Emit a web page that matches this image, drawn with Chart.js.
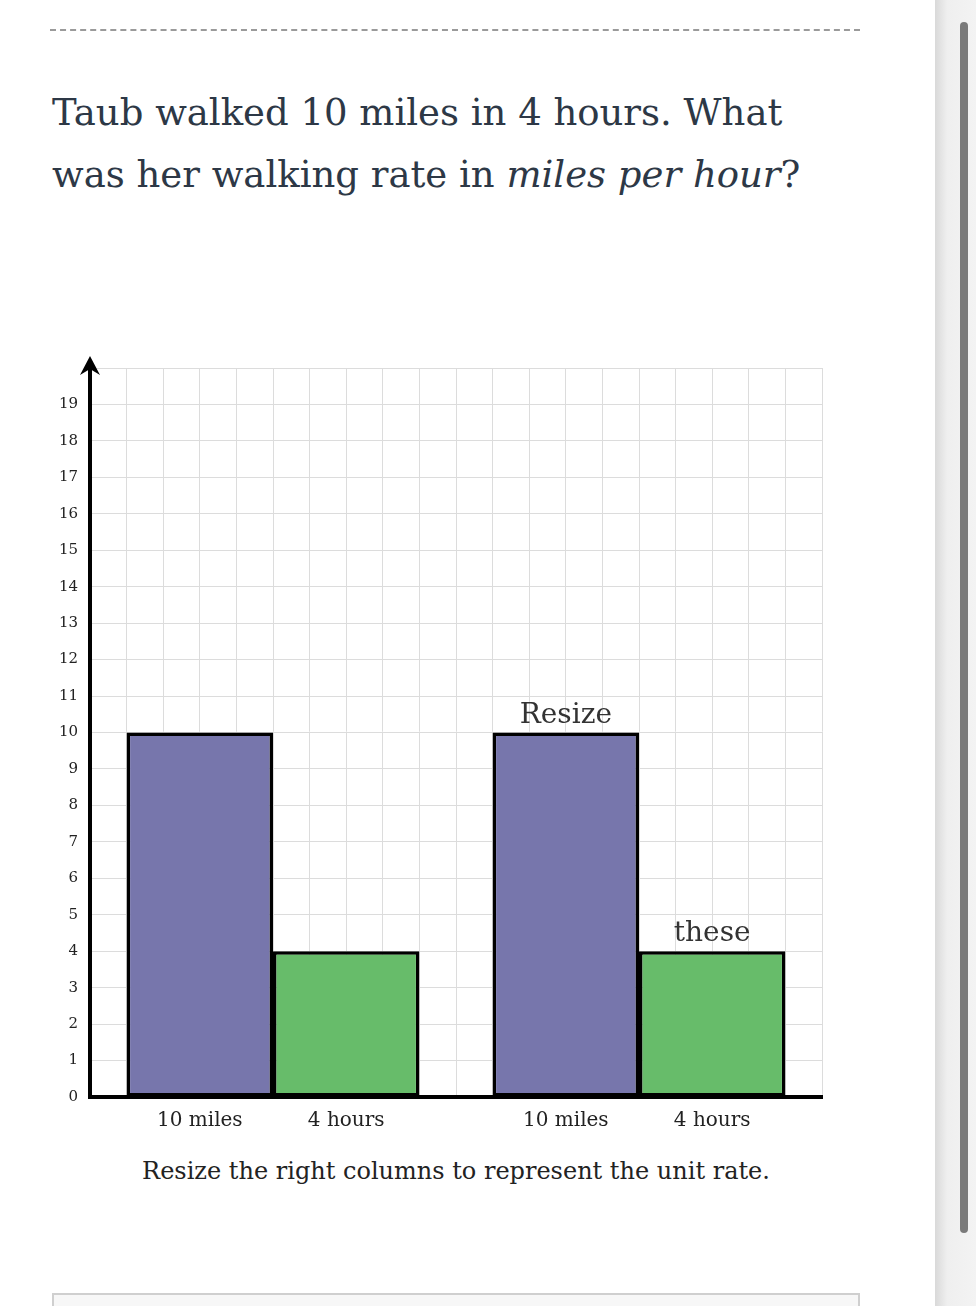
<!DOCTYPE html>
<html>
<head>
<meta charset="utf-8">
<script src="https://cdn.jsdelivr.net/npm/chart.js@4"></script>
<style>
  body { margin: 0; background: #fff; width: 976px; height: 1306px; overflow: hidden; position: relative; font-family: "DejaVu Serif", serif; }
  .dash { position: absolute; left: 50px; top: 29px; width: 810px; border-top: 2px dashed #9a9a9a; }
  .title { position: absolute; left: 52px; top: 82px; font-size: 37px; line-height: 62px; color: #2d3846; white-space: nowrap; }
  .caption { position: absolute; left: 0; width: 912px; top: 1157px; text-align: center; font-size: 24px; color: #222; }
  #wrap { position: absolute; left: 40px; top: 340px; width: 794px; height: 800px; }
  .scroll { position: absolute; left: 935px; top: 0; width: 41px; height: 1306px; background: linear-gradient(to right, #d9d9d9, #efefef 30%, #f3f3f3); }
  .thumb { position: absolute; left: 960px; top: 22px; width: 8px; height: 1211px; background: #7a7a7a; border-radius: 4px; }
  .box { position: absolute; left: 52px; top: 1293px; width: 804px; height: 30px; border: 2px solid #cfcfcf; background: #f7f7f7; }
</style>
</head>
<body>
<div class="dash"></div>
<div class="title">Taub walked 10 miles in 4 hours. What<br>was her walking rate in <i>miles per hour</i>?</div>
<div id="wrap"><canvas id="bar-chart"></canvas></div>
<div class="caption">Resize the right columns to represent the unit rate.</div>
<div class="scroll"></div>
<div class="thumb"></div>
<div class="box"></div>
<script>
const categories = ['10 miles', '4 hours', '10 miles', '4 hours'];
const slots = [3, 7, 13, 17];
const values = [10, 4, 10, 4];
const notes = ['', '', 'Resize', 'these'];
const colors = ['#7776ac', '#67bc6a', '#7776ac', '#67bc6a'];

let points = [];
for (i = 0; i < values.length; i++) {
    points.push({ x: slots[i], y: values[i] });
}

const extras = {
    id: 'extras',
    afterDatasetsDraw(chart) {
        const ctx = chart.ctx;
        const meta = chart.getDatasetMeta(0);
        ctx.save();
        ctx.font = '28px "DejaVu Serif", serif';
        ctx.fillStyle = '#333';
        ctx.textAlign = 'center';
        ctx.textBaseline = 'bottom';
        meta.data.forEach(function (bar, i) {
            if (notes[i]) ctx.fillText(notes[i], bar.x, bar.y - 3);
        });
        // y axis arrow
        const x = chart.scales.y.right;
        const top = chart.chartArea.top;
        ctx.strokeStyle = '#000';
        ctx.lineWidth = 4;
        ctx.beginPath();
        ctx.moveTo(x, top + 2);
        ctx.lineTo(x, top - 6);
        ctx.stroke();
        ctx.fillStyle = '#000';
        ctx.beginPath();
        ctx.moveTo(x, top - 12);
        ctx.lineTo(x - 10, top + 7);
        ctx.lineTo(x, top + 1);
        ctx.lineTo(x + 10, top + 7);
        ctx.closePath();
        ctx.fill();
        ctx.restore();
    }
};

new Chart(document.getElementById('bar-chart'), {
    type: 'bar',
    data: {
        datasets: [{
            data: points,
            backgroundColor: colors,
            borderColor: '#000',
            borderWidth: 3.5,
            borderSkipped: false,
            // one grid step is the ruler, bars span four steps
            barPercentage: 4,
            categoryPercentage: 1
        }]
    },
    options: {
        responsive: true,
        maintainAspectRatio: false,
        animation: false,
        layout: { padding: { top: 28, right: 0, left: 0, bottom: 0 } },
        plugins: { legend: { display: false }, tooltip: { enabled: false } },
        scales: {
            x: {
                type: 'linear',
                min: 0,
                max: 20,
                offset: false,
                afterFit: function (scale) { scale.height = 43; },
                grid: { color: '#dcdcdc', lineWidth: 1, drawTicks: false, offset: false },
                border: { color: '#000', width: 4 },
                ticks: {
                    stepSize: 1,
                    autoSkip: false,
                    maxRotation: 0,
                    padding: 12,
                    color: '#222',
                    font: { family: '"DejaVu Serif", serif', size: 20 },
                    callback: function (v) {
                        const k = slots.indexOf(v);
                        return k >= 0 ? categories[k] : '';
                    }
                }
            },
            y: {
                min: 0,
                max: 20,
                afterFit: function (scale) { scale.width = 50; },
                grid: { color: '#dcdcdc', lineWidth: 1, drawTicks: false },
                border: { color: '#000', width: 4 },
                ticks: {
                    stepSize: 1,
                    autoSkip: false,
                    padding: 12,
                    color: '#222',
                    font: { family: '"DejaVu Serif", serif', size: 15 },
                    callback: function (v) { return v < 20 ? v : ''; }
                }
            }
        }
    },
    plugins: [extras]
});
</script>
</body>
</html>
